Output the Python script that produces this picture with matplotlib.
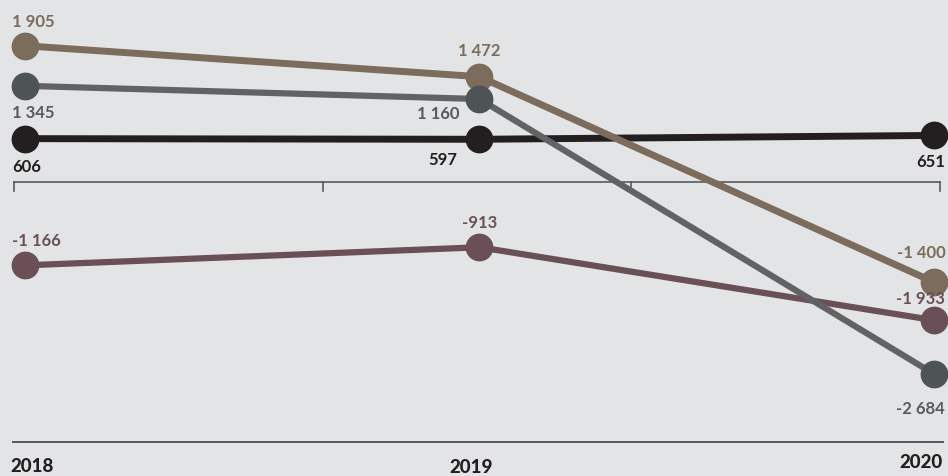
import numpy as np
import matplotlib
matplotlib.use('Agg')
from matplotlib import pyplot as plt

plt.rcParams['font.family'] = ['Lato', 'DejaVu Sans']

years = [2018, 2019, 2020]
brown = [1905, 1472, -1400]
grey = [1345, 1160, -2684]
black = [606, 597, 651]
mauve = [-1166, -913, -1933]

bg = '#e3e4e5'

def fmt(v):
    s = '{:,}'.format(abs(v)).replace(',', ' ')
    return ('-' + s) if v < 0 else s

fig = plt.figure(figsize=(9.48, 4.77), dpi=100, facecolor=bg)
ax = fig.add_axes([0, 0, 1, 1])
ax.set_facecolor(bg)
ax.set_xlim(2017.945, 2020.031)
ax.set_ylim(-4112, 2559)
ax.axis('off')

# zero bracket
tr = ax.get_yaxis_transform()
x0, x1 = 0.0148, 0.9916
ax.plot([x0, x1], [0, 0], color='#58595b', lw=1.2, transform=tr, zorder=1)
for xt in np.linspace(x0, x1, 4):
    ax.plot([xt, xt], [0, -125], color='#58595b', lw=1.2, transform=tr, zorder=1)

# bottom baseline
ax.plot([0.0137, 0.9947], [0.0713, 0.0713], color='#58595b', lw=1.4,
        transform=ax.transAxes, zorder=1)

series = [
    (black, '#231f20', '#231f20', 5.0),
    (mauve, '#6a4f56', '#6a4f56', 4.5),
    (brown, '#7b6c5b', '#7b6c5b', 5.0),
    (grey, '#616264', '#4e5355', 4.5),
]
for vals, c, mc, lw in series:
    ax.plot(years, vals, color=c, lw=lw, marker='o', markersize=19,
            markerfacecolor=mc, markeredgecolor=mc, solid_capstyle='butt', zorder=3)

# value labels: (series, colour, offsets per year, alignments)
labels = [
    (brown, '#7b6c5b', [(-13, 25, 'left'), (0, 27, 'center'), (12, 30, 'right')]),
    (grey, '#58595b', [(-13, -26, 'left'), (-20, -14, 'right'), (11, -34, 'right')]),
    (black, '#231f20', [(-13, -27, 'left'), (-22, -20, 'right'), (11, -26, 'right')]),
    (mauve, '#6a4f56', [(-13, 25, 'left'), (0, 25, 'center'), (11, 22, 'right')]),
]
for vals, c, offs in labels:
    for yr, v, (dx, dy, ha) in zip(years, vals, offs):
        ax.annotate(fmt(v), (yr, v), xytext=(dx, dy), textcoords='offset pixels',
                    ha=ha, va='center', fontsize=12, fontweight='bold', color=c,
                    zorder=5)

# year labels
ax.text(10 / 948, 1 - 467 / 477, '2018', transform=ax.transAxes, ha='left', va='center',
        fontsize=13.5, fontweight='black', color='#231f20')
ax.text(471 / 948, 1 - 468 / 477, '2019', transform=ax.transAxes, ha='center', va='center',
        fontsize=13.5, fontweight='black', color='#231f20')
ax.text(943 / 948, 1 - 463 / 477, '2020', transform=ax.transAxes, ha='right', va='center',
        fontsize=13.5, fontweight='black', color='#231f20')

plt.savefig('out.png', dpi=100, facecolor=bg)
